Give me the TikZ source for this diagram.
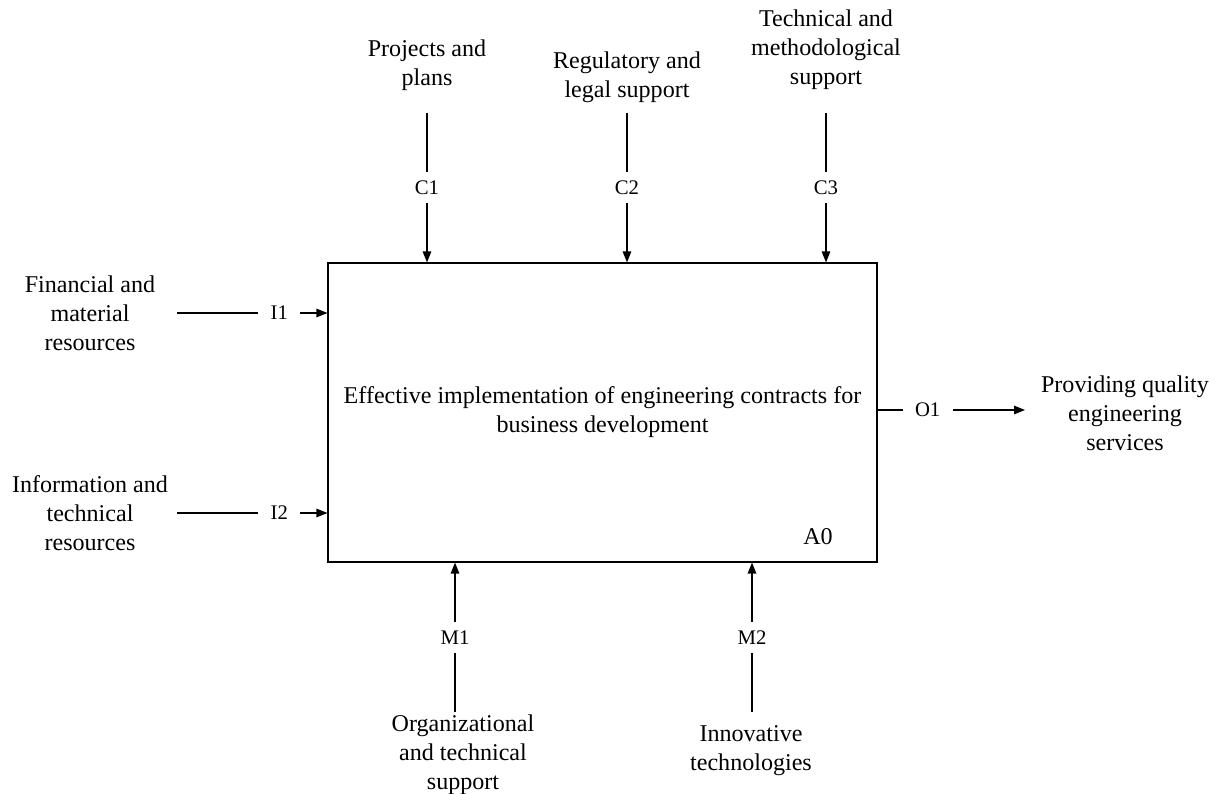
\documentclass[tikz,border=0pt]{standalone}
\usepackage{fontspec}
\setmainfont{Liberation Serif}
\usetikzlibrary{arrows.meta}

\begin{document}
\begin{tikzpicture}[x=0.02cm, y=-0.02cm, line width=0.7pt,
    every node/.style={font=\fontsize{13.7}{16.5}\selectfont, align=center},
    lbl/.style={fill=white, inner xsep=7pt, inner ysep=5pt, font=\fontsize{11.8}{14}\selectfont},
    arr/.style={-{Triangle[length=2.2mm, width=1.7mm]}}]
    \useasboundingbox (0,0) rectangle (1221,794);

    \node[draw, minimum width=10.98cm, minimum height=5.98cm] (a0) at (602.5,412.5)
        {Effective implementation of engineering contracts for\\business development};
    \node (a0num) at (818,537) {A0};

    \node (proj) at (427,65) {Projects and\\plans};
    \node (regl) at (627,77) {Regulatory and\\legal support};
    \node (tech) at (826,50) {Technical and\\methodological\\support};
    \node (fin) at (90,313) {Financial and\\material\\resources};
    \node (info) at (90,513) {Information and\\technical\\resources};
    \node (serv) at (1125,413) {Providing quality\\engineering\\services};
    \node (org) at (463,755) {Organizational\\and technical\\support};
    \node (innov) at (751,751) {Innovative\\technologies};

    \coordinate (c1) at (427,113);
    \coordinate (c2) at (627,113);
    \coordinate (c3) at (826,113);
    \coordinate (i1) at (177,313);
    \coordinate (i2) at (177,513);
    \coordinate (o1) at (1025,410);
    \coordinate (m1) at (455,712);
    \coordinate (m2) at (752,712);

    % controls
    \foreach \c/\t in {c1/C1, c2/C2, c3/C3}
        \draw[arr] (\c) -- node[lbl] {\t} (\c |- a0.north);
    % inputs
    \draw[arr] (i1) -- node[lbl, pos=0.68] {I1} (i1 -| a0.west);
    \draw[arr] (i2) -- node[lbl, pos=0.68] {I2} (i2 -| a0.west);
    % output
    \draw[arr] (a0.east |- o1) -- node[lbl, pos=0.34] {O1} (o1);
    % mechanisms
    \foreach \m/\t in {m1/M1, m2/M2}
        \draw[arr] (\m) -- node[lbl] {\t} (\m |- a0.south);
\end{tikzpicture}
\end{document}
